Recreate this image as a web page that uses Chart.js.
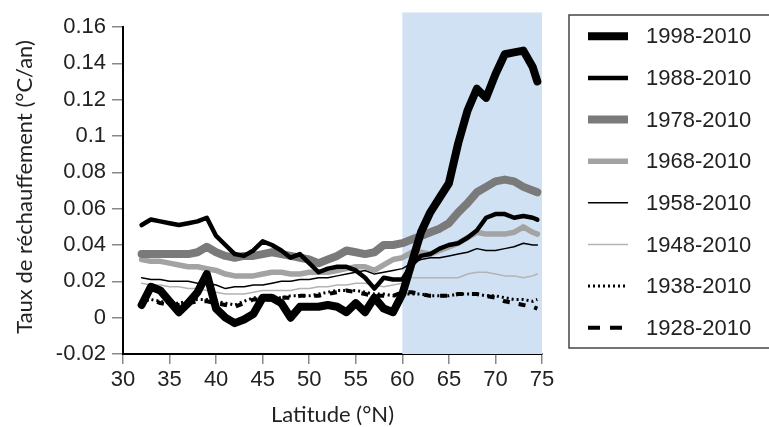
<!DOCTYPE html>
<html>
<head>
<meta charset="utf-8">
<script src="https://cdn.jsdelivr.net/npm/chart.js@4/dist/chart.umd.min.js"></script>
<style>
html,body{margin:0;padding:0;background:#fff;}
#wrap{position:relative;width:769px;height:427px;}
</style>
</head>
<body>
<div id="wrap"><canvas id="c" width="769" height="427"></canvas></div>
<script>
// Latitude grid (°N)
const latitudes = [32,33,34,35,36,37,38,39,40,41,42,43,44,45,46,47,48,49,50,51,52,53,54,55,56,57,58,59,60,61,62,63,64,65,66,67,68,69,70,71,72,73,74,74.5];

const s1998 = [0.007,0.017,0.015,0.009,0.003,0.008,0.014,0.024,0.005,0.000,-0.003,-0.001,0.002,0.011,0.011,0.008,0.000,0.006,0.006,0.006,0.007,0.006,0.003,0.008,0.003,0.011,0.005,0.003,0.013,0.030,0.047,0.058,0.066,0.074,0.096,0.114,0.126,0.121,0.134,0.145,0.146,0.147,0.138,0.130];
const s1988 = [0.051,0.054,0.053,0.052,0.051,0.052,0.053,0.055,0.045,0.040,0.035,0.034,0.037,0.042,0.040,0.037,0.033,0.035,0.030,0.025,0.027,0.028,0.028,0.026,0.022,0.016,0.022,0.021,0.021,0.029,0.034,0.035,0.038,0.040,0.041,0.044,0.048,0.055,0.057,0.057,0.055,0.056,0.055,0.054];
const s1978 = [0.035,0.035,0.035,0.035,0.035,0.035,0.036,0.039,0.036,0.034,0.033,0.034,0.034,0.035,0.036,0.035,0.034,0.033,0.032,0.030,0.032,0.034,0.037,0.036,0.035,0.036,0.040,0.040,0.041,0.043,0.045,0.047,0.049,0.052,0.058,0.063,0.069,0.072,0.075,0.076,0.075,0.072,0.070,0.069];
const s1968 = [0.032,0.031,0.031,0.030,0.029,0.028,0.028,0.027,0.026,0.024,0.023,0.023,0.023,0.024,0.025,0.025,0.024,0.024,0.025,0.025,0.025,0.026,0.027,0.028,0.028,0.026,0.029,0.032,0.033,0.036,0.036,0.035,0.037,0.039,0.041,0.044,0.047,0.046,0.046,0.046,0.047,0.050,0.047,0.046];
const s1958 = [0.022,0.021,0.021,0.020,0.020,0.020,0.019,0.019,0.018,0.016,0.017,0.017,0.018,0.018,0.019,0.020,0.020,0.021,0.021,0.022,0.022,0.023,0.024,0.025,0.026,0.024,0.025,0.026,0.027,0.030,0.032,0.033,0.033,0.034,0.035,0.036,0.038,0.037,0.037,0.038,0.039,0.041,0.040,0.040];
const s1948 = [0.019,0.018,0.018,0.017,0.017,0.016,0.016,0.015,0.014,0.013,0.013,0.013,0.014,0.015,0.015,0.015,0.015,0.016,0.016,0.017,0.017,0.018,0.018,0.019,0.019,0.018,0.017,0.018,0.019,0.022,0.022,0.022,0.022,0.022,0.022,0.024,0.025,0.025,0.024,0.023,0.023,0.022,0.023,0.024];
const s1938 = [0.009,0.010,0.009,0.008,0.008,0.009,0.010,0.010,0.009,0.008,0.007,0.009,0.011,0.011,0.011,0.011,0.012,0.012,0.012,0.013,0.014,0.015,0.015,0.015,0.014,0.013,0.013,0.012,0.013,0.013,0.013,0.012,0.012,0.012,0.013,0.013,0.013,0.012,0.012,0.011,0.010,0.010,0.009,0.010];
const s1928 = [0.010,0.010,0.008,0.007,0.007,0.008,0.009,0.009,0.008,0.007,0.006,0.008,0.010,0.010,0.010,0.011,0.011,0.012,0.012,0.012,0.013,0.014,0.015,0.014,0.013,0.012,0.012,0.012,0.014,0.014,0.013,0.012,0.012,0.012,0.013,0.013,0.013,0.012,0.011,0.009,0.008,0.007,0.006,0.005];

const seriesLabels = ['1998-2010','1988-2010','1978-2010','1968-2010','1958-2010','1948-2010','1938-2010','1928-2010'];
const xTicks = [30,35,40,45,50,55,60,65,70,75];
const yTicks = [-0.02,0,0.02,0.04,0.06,0.08,0.1,0.12,0.14,0.16];
const xTitle = 'Latitude (°N)';
const yTitle = 'Taux de réchauffement (°C/an)';
const shadeBand = [60, 75];   // shaded latitude band
const shadeTop = 0.168;

const seriesValues = [s1998,s1988,s1978,s1968,s1958,s1948,s1938,s1928];
const styles = [
  {color:'#000000', width:8, dash:[], legendDash:[]},
  {color:'#000000', width:4.5, dash:[], legendDash:[]},
  {color:'#7a7a7a', width:8, dash:[], legendDash:[]},
  {color:'#a3a3a3', width:5.5, dash:[], legendDash:[]},
  {color:'#000000', width:1.5, dash:[], legendDash:[]},
  {color:'#b3b3b3', width:1.5, dash:[], legendDash:[]},
  {color:'#000000', width:3, dash:[2,3], legendDash:[2,3]},
  {color:'#000000', width:4, dash:[7,9], legendDash:[12,10]}
];

const datasets = seriesValues.map((vals,i)=>({
  label: seriesLabels[i],
  data: latitudes.map((x,j)=>({x:x, y:vals[j]})),
  borderColor: styles[i].color,
  borderWidth: styles[i].width,
  borderDash: styles[i].dash,
  borderJoinStyle: 'round',
  borderCapStyle: i>=6 ? 'butt' : 'round',
  pointRadius: 0,
  tension: 0,
  fill: false
}));

const shadePlugin = {
  id:'shade',
  beforeDatasetsDraw(chart){
    const {ctx, scales:{x,y}} = chart;
    const x0 = x.getPixelForValue(shadeBand[0]);
    const x1 = x.getPixelForValue(shadeBand[1]);
    const yt = y.getPixelForValue(shadeTop);
    const yb = chart.chartArea.bottom;
    ctx.save();
    ctx.fillStyle = '#cfe1f2';
    ctx.fillRect(x0, yt, x1-x0, yb-yt);
    ctx.restore();
  }
};

const yTitlePlugin = {
  id:'yTitle',
  afterDraw(chart){
    const ctx = chart.ctx;
    ctx.save();
    ctx.translate(25, 187);
    ctx.rotate(-Math.PI/2);
    ctx.fillStyle = '#222';
    ctx.font = '22px Lato, "Open Sans", sans-serif';
    ctx.textAlign = 'center';
    ctx.textBaseline = 'middle';
    ctx.fillText(yTitle, 0, 0);
    ctx.restore();
  }
};

const legendPlugin = {
  id:'boxLegend',
  afterDraw(chart){
    const ctx = chart.ctx;
    const left = 569, top = 15, bottom = 348, right = 775;
    ctx.save();
    ctx.strokeStyle = '#444';
    ctx.lineWidth = 1.5;
    ctx.strokeRect(left, top, right-left, bottom-top);
    const rowH = (bottom - top) / seriesLabels.length;
    seriesLabels.forEach((lab,i)=>{
      const yc = top + rowH*(i+0.5) + 0.5;
      const st = styles[i];
      ctx.beginPath();
      ctx.setLineDash(st.legendDash);
      ctx.lineCap = 'butt';
      ctx.strokeStyle = st.color;
      ctx.lineWidth = st.width;
      ctx.moveTo(588, yc);
      ctx.lineTo(628, yc);
      ctx.stroke();
      ctx.setLineDash([]);
      ctx.fillStyle = '#222';
      ctx.font = '22px "Liberation Sans", Arial, sans-serif';
      ctx.textBaseline = 'middle';
      ctx.textAlign = 'left';
      ctx.fillText(lab, 646, yc + 1);
    });
    ctx.restore();
  }
};

new Chart(document.getElementById('c'), {
  type:'line',
  data:{datasets},
  plugins:[shadePlugin, legendPlugin, yTitlePlugin],
  options:{
    responsive:false,
    animation:false,
    devicePixelRatio:1,
    layout:{padding:{top:27, right:227, left:0, bottom:0}},
    plugins:{legend:{display:false}, tooltip:{enabled:false}},
    scales:{
      x:{
        type:'linear', min:30, max:75,
        afterBuildTicks(s){ s.ticks = xTicks.map(v=>({value:v})); },
        afterFit(s){ s.height = 73; },
        grid:{drawOnChartArea:false, drawTicks:true, tickLength:10, color:'#888', lineWidth:1.5},
        border:{display:true, color:'#000', width:2},
        ticks:{color:'#222', font:{family:'"Liberation Sans", Arial, sans-serif', size:22}, padding:3, maxRotation:0},
        title:{display:true, text:xTitle, color:'#222', font:{family:'Lato, "Open Sans", sans-serif', size:22}, padding:{top:0,bottom:-1}}
      },
      y:{
        type:'linear', min:-0.02, max:0.16,
        afterBuildTicks(s){ s.ticks = yTicks.map(v=>({value:v})); },
        afterFit(s){ s.width = 123; },
        grid:{drawOnChartArea:false, drawTicks:true, tickLength:11, color:'#888', lineWidth:1.5},
        border:{display:true, color:'#000', width:2},
        ticks:{color:'#222', font:{family:'"Liberation Sans", Arial, sans-serif', size:22}, padding:6,
          callback:(v)=>String(Number(v.toFixed(2)))},
        title:{display:false}
      }
    }
  }
});
</script>
</body>
</html>
